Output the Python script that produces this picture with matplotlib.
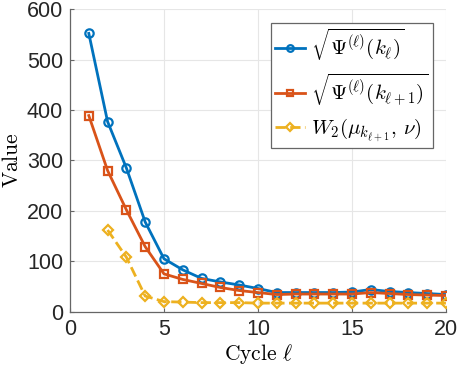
import matplotlib
matplotlib.use('Agg')
import matplotlib.pyplot as plt

# data
cycles = list(range(1, 21))
psi_k = [552, 377, 285, 178, 105, 83, 66, 59, 53, 46,
         38, 38, 38, 38, 39, 44, 40, 38, 36, 34]
psi_k1 = [389, 280, 202, 129, 75, 64, 56, 48, 42, 38,
          34, 35, 35, 35, 35, 38, 36, 34, 33, 32]
w2_cycles = list(range(2, 21))
w2 = [162, 108, 31, 20, 19, 18, 18, 18, 17,
      17, 17, 17, 17, 17, 17, 17, 17, 17, 17]

plt.rcParams['mathtext.fontset'] = 'cm'
plt.rcParams['font.family'] = ['Liberation Sans', 'DejaVu Sans']

fig = plt.figure(figsize=(4.59, 3.68), dpi=100)
ax = fig.add_axes([0.1525, 0.153, 0.819, 0.822])

ax.plot(cycles, psi_k, c='#0072BD', lw=2, marker='o', ms=6, mfc='none', mew=1.6,
        label=r'$\sqrt{\Psi^{(\ell)}(k_\ell)}$')
ax.plot(cycles, psi_k1, c='#D95319', lw=2, marker='s', ms=5.5, mfc='none', mew=1.6,
        label=r'$\sqrt{\Psi^{(\ell)}(k_{\ell+1})}$')
ax.plot(w2_cycles, w2, c='#EDB120', lw=2, ls='--', marker='D', ms=5.5, mfc='none', mew=1.6,
        label=r'$W_2(\mu_{k_{\ell+1}},\,\nu)$')

ax.set_xlim(0, 20)
ax.set_ylim(0, 600)
ax.set_xticks([0, 5, 10, 15, 20])
ax.set_yticks([0, 100, 200, 300, 400, 500, 600])
ax.tick_params(labelsize=15.5, colors='#262626', direction='in', length=3, pad=5)
ax.tick_params(axis='both', which='both', color='#666666')
ax.grid(True, color='#e6e6e6', lw=0.8)
ax.set_axisbelow(True)
for s in ['top', 'right']:
  ax.spines[s].set_visible(False)
for s in ['left', 'bottom']:
  ax.spines[s].set_color('#666666')
  ax.spines[s].set_linewidth(0.9)

ax.set_xlabel(r'$\mathrm{Cycle}\ \ell$', fontsize=15.5, labelpad=2)
ax.set_ylabel(r'$\mathrm{Value}$', fontsize=15.5)
ax.yaxis.set_label_coords(-0.125, 0.5)

leg = ax.legend(loc='upper right', fontsize=15, fancybox=False, framealpha=1,
                edgecolor='#666666', handlelength=1.4, handletextpad=0.3,
                borderpad=0.2, labelspacing=0.4, borderaxespad=0, markerscale=0.8,
                bbox_to_anchor=(0.965, 0.955))
leg.get_frame().set_linewidth(0.9)

fig.savefig('out.png', dpi=100)
